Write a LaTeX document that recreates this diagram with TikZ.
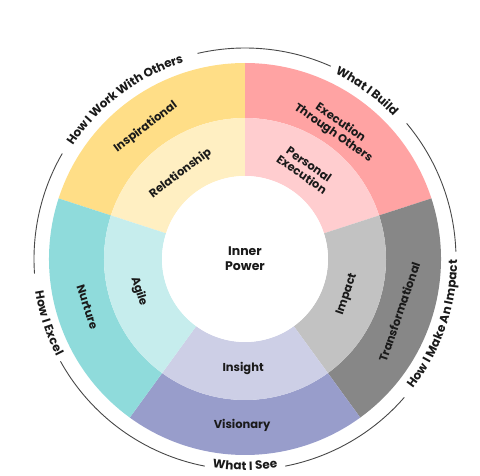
\documentclass[tikz,border=0pt]{standalone}
\usepackage{fontspec}
\setmainfont{Poppins}
\usetikzlibrary{decorations.text}
\definecolor{yelO}{HTML}{FFDE87}
\definecolor{yelI}{HTML}{FFEFC2}
\definecolor{pinO}{HTML}{FFA3A3}
\definecolor{pinI}{HTML}{FFCDCF}
\definecolor{gryO}{HTML}{878787}
\definecolor{gryI}{HTML}{C2C2C2}
\definecolor{purO}{HTML}{989DCB}
\definecolor{purI}{HTML}{CDCFE6}
\definecolor{teaO}{HTML}{8FDBDB}
\definecolor{teaI}{HTML}{C6EDED}
\definecolor{ink}{HTML}{1A1A1A}
\tikzset{
  seglabel/.style={font=\bfseries\fontsize{11.5}{12.5}\selectfont, text=ink, align=center, inner sep=0pt},
  ringline/.style={draw=ink!80, line width=0.9pt},
  ringtext/.style={decorate, decoration={text along path, text align=center, raise=-4.2pt, text color=ink}},
}
\newcommand{\annsec}[5]{% color, a1, a2, r1, r2
  \fill[#1] (#2:#4) -- (#2:#5) arc[start angle=#2, end angle=#3, radius=#5] -- (#3:#4) arc[start angle=#3, end angle=#2, radius=#4] -- cycle;}
\newcommand{\rfont}{\bfseries\fontsize{12}{14}\selectfont}
\begin{document}
\begin{tikzpicture}
\useasboundingbox (0pt,0pt) rectangle (480pt,475pt);
\begin{scope}[shift={(245pt,216pt)}]
  % outer band
  \annsec{yelO}{90}{162}{141pt}{196pt}
  \annsec{pinO}{18}{90}{141pt}{196pt}
  \annsec{gryO}{-54}{18}{141pt}{196pt}
  \annsec{purO}{-126}{-54}{141pt}{196pt}
  \annsec{teaO}{162}{234}{141pt}{196pt}
  % inner band
  \annsec{yelI}{90}{162}{83pt}{141pt}
  \annsec{pinI}{18}{90}{83pt}{141pt}
  \annsec{gryI}{-54}{18}{83pt}{141pt}
  \annsec{purI}{-126}{-54}{83pt}{141pt}
  \annsec{teaI}{162}{234}{83pt}{141pt}
  \fill[white] (0,0) circle[radius=83pt];

  \node[seglabel, font=\bfseries\fontsize{12.5}{15}\selectfont] (inner) at (0,0) {Inner\\Power};

  \node[seglabel, rotate=37] (inspirational) at (127:165pt) {Inspirational};
  \node[seglabel, rotate=37] (relationship) at (127:107pt) {Relationship};
  \node[seglabel, rotate=-35] (eto) at (55:160pt) {Execution\\Through Others};
  \node[seglabel, rotate=-35] (persexec) at (56:108pt) {Personal\\Execution};
  \node[seglabel, rotate=71] (transf) at (-19:163pt) {Transformational};
  \node[seglabel, rotate=71] (impact) at (-19:108pt) {Impact};
  \node[seglabel] (visionary) at (-91:166pt) {Visionary};
  \node[seglabel] (insight) at (-91:109pt) {Insight};
  \node[seglabel, rotate=-72] (nurture) at (197:165pt) {Nurture};
  \node[seglabel, rotate=-72] (agile) at (197:111pt) {Agile};

  % outer ring lines
  \draw[ringline] (103:211pt) arc[start angle=103, end angle=66, radius=211pt];
  \draw[ringline] (40:211pt) arc[start angle=40, end angle=2, radius=211pt];
  \draw[ringline] (-41:211pt) arc[start angle=-41, end angle=-79, radius=211pt];
  \draw[ringline] (-101:211pt) arc[start angle=-101, end angle=-151, radius=211pt];
  \draw[ringline] (184:211pt) arc[start angle=184, end angle=150, radius=211pt];

  % outer ring texts
  \path[ringtext, decoration={text={|\rfont|How I Work With Others}}]
    (167:210pt) arc[start angle=167, end angle=87, radius=210pt];
  \path[ringtext, decoration={text={|\rfont|What I Build}}]
    (94:210pt) arc[start angle=94, end angle=14, radius=210pt];
  \path[ringtext, decoration={text={|\rfont|How I Make An Impact}}]
    (-59:208pt) arc[start angle=-59, end angle=21, radius=208pt];
  \path[ringtext, decoration={text={|\rfont|What I See}}]
    (-130:207pt) arc[start angle=-130, end angle=-50, radius=207pt];
  \path[ringtext, decoration={text={|\rfont|How I Excel}}]
    (158:208pt) arc[start angle=158, end angle=238, radius=208pt];
\end{scope}
\end{tikzpicture}
\end{document}
